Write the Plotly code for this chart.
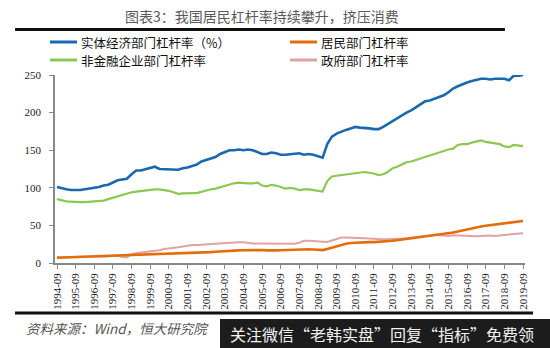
import plotly.graph_objects as go

# Quarterly observations, 1994-09 .. 2019-09 (Mar, Jun, Sep, Dec per year)
quarters = ["1994-09", "1994-12"] + [
    f"{y}-{m}" for y in range(1995, 2020) for m in ("03", "06", "09", "12")
][:-1]

names = ["实体经济部门杠杆率（%）", "居民部门杠杆率", "非金融企业部门杠杆率", "政府部门杠杆率"]

real_economy = [
    101, 99,
    98, 97, 97, 97,
    98, 99, 100, 101,
    103, 104, 107, 110,
    111, 112, 118, 123,
    123, 125, 126, 128,
    125, 125, 124, 124,
    124, 126, 127, 129,
    131, 135, 137, 139,
    141, 145, 148, 150,
    150, 151, 150, 151,
    150, 147, 145, 145,
    147, 146, 144, 144,
    145, 145, 146, 144,
    145, 144, 142, 140,
    158, 168, 172, 175,
    177, 179, 181, 180,
    180, 179, 178, 178,
    181, 185, 189, 192,
    196, 200, 203, 207,
    210, 215, 216, 218,
    221, 223, 227, 232,
    235, 238, 240, 242,
    244, 245, 245, 244,
    245, 245, 245, 243,
    249, 249, 250,
]

household = [
    7.0, 7.2,
    7.4, 7.6, 7.8, 8.0,
    8.2, 8.4, 8.6, 8.8,
    9.0, 9.3, 9.6, 10.0,
    10.2, 10.5, 10.8, 11.0,
    11.2, 11.4, 11.5, 11.6,
    11.7, 11.8, 11.9, 12.0,
    12.2, 12.5, 12.8, 13.0,
    13.3, 13.7, 14.0, 14.5,
    15.0, 15.5, 16.0, 16.3,
    16.5, 16.8, 17.0, 17.2,
    17.3, 17.3, 17.2, 16.8,
    16.5, 16.8, 17.0, 17.3,
    17.6, 18.0, 18.3, 18.3,
    18.2, 18.0, 17.5, 17.2,
    18.5, 20.5, 22.5, 24.0,
    25.5, 26.5, 27.0, 27.2,
    27.5, 27.7, 27.8, 28.0,
    28.3, 28.8, 29.5, 30.2,
    31.0, 32.0, 33.0, 33.8,
    34.5, 35.3, 36.0, 36.5,
    37.3, 38.3, 39.3, 40.5,
    42.0, 43.5, 45.0, 46.5,
    47.5, 48.5, 49.5, 50.3,
    51.0, 52.0, 53.0, 53.8,
    54.5, 55.2, 55.9,
]

corporate = [
    85, 83,
    82, 81.5, 81, 81,
    81, 81.5, 82, 82.5,
    83, 85, 87, 89,
    91, 92, 94, 95,
    96, 97, 97.5, 98,
    98, 97.5, 96, 94,
    92, 92.5, 93, 93,
    93, 95, 97, 98,
    99, 101, 103, 105,
    106, 107, 106, 106,
    106, 107, 103, 102,
    104, 103, 101, 99,
    100, 99, 97, 98,
    98, 97, 96, 95,
    109, 115, 116, 117,
    117, 118, 119, 120,
    121, 120, 119, 117,
    118, 121, 126, 128,
    131, 134, 135, 137,
    140, 142, 143, 145,
    148, 150, 151, 152,
    157, 158, 158, 160,
    162, 163, 161, 160,
    160, 158, 155, 154,
    157, 156, 155.5,
]

government = [
    7.5, 7.5,
    7.5, 7.7, 7.8, 8.0,
    8.0, 8.2, 8.3, 8.5,
    8.6, 8.8, 9.5, 9.8,
    8.0, 7.5, 12.0, 13.5,
    14.0, 14.5, 15.0, 16.0,
    17.0, 18.5, 19.0, 20.5,
    21.0, 22.0, 23.0, 24.0,
    24.0, 24.5, 25.0, 25.5,
    26.0, 26.5, 27.0, 27.0,
    27.0, 27.5, 27.5, 26.5,
    26.0, 26.0, 26.0, 26.5,
    26.5, 26.5, 26.5, 26.0,
    25.5, 25.5, 27.0, 29.5,
    29.5, 29.0, 28.0, 27.5,
    28.0, 30.0, 32.0, 34.0,
    34.0, 34.0, 33.5, 33.0,
    33.0, 32.5, 32.0, 31.5,
    31.5, 31.5, 31.5, 32.0,
    32.5, 33.0, 34.0, 35.0,
    35.5, 36.0, 36.5, 37.5,
    37.0, 36.0, 36.0, 37.0,
    36.5, 37.0, 36.0, 35.5,
    35.5, 36.0, 36.5, 36.5,
    36.0, 37.0, 37.5, 38.0,
    38.5, 39.0, 39.5,
]

year_ticks = [q for q in quarters if q.endswith("-09")]
y_ticks = [0, 50, 100, 150, 200, 250]

colors = ["#1a68ad", "#e46c0a", "#8cc850", "#e0a3a3"]
widths = [2.6, 2.6, 2.2, 2.0]
series = [real_economy, household, corporate, government]

W, H = 550, 348
L, R, T, B = 55, 25, 75, 85
PW, PH = W - L - R, H - T - B


def px(x):
    return (x - L) / PW


def py(y):
    return (H - B - y) / PH


fig = go.Figure()
# draw order: pink and green underneath, blue and orange on top
for idx in (3, 2, 1, 0):
    fig.add_trace(go.Scatter(
        x=quarters, y=series[idx], mode="lines", name=names[idx],
        line=dict(color=colors[idx], width=widths[idx]),
        showlegend=False,
    ))

serif = "Liberation Serif"
cjk = "Noto Sans CJK SC"

shapes = [
    # heavy rules above and below the chart
    dict(type="line", xref="paper", yref="paper", x0=px(15), x1=px(505),
         y0=py(29.5), y1=py(29.5), line=dict(color="#111", width=3)),
    dict(type="line", xref="paper", yref="paper", x0=px(15), x1=px(533),
         y0=py(313), y1=py(313), line=dict(color="#111", width=3)),
    # footer banner
    dict(type="rect", xref="paper", yref="paper", x0=px(220), x1=px(550),
         y0=py(348), y1=py(319), fillcolor="#1c1c1c", line=dict(width=0), layer="above"),
]

annotations = [
    dict(text="图表3：我国居民杠杆率持续攀升，挤压消费", xref="paper", yref="paper",
         x=px(262), y=py(16), xanchor="center", yanchor="middle", showarrow=False,
         font=dict(family=cjk, size=14, color="#5a5a5a")),
    dict(text="<i>资料来源：Wind，恒大研究院</i>", xref="paper", yref="paper",
         x=px(24), y=py(328), xanchor="left", yanchor="middle", showarrow=False,
         font=dict(family=cjk, size=13.5, color="#555")),
    dict(text="关注微信“老韩实盘”回复“指标”免费领", xref="paper", yref="paper",
         x=px(228), y=py(334), xanchor="left", yanchor="middle", showarrow=False,
         font=dict(family=cjk, size=16, color="#f2f2f2")),
]

# hand-placed legend in two columns
legend_pos = [(50, 42), (290, 42), (50, 60), (290, 60)]
for (lx, ly), name, color in zip(legend_pos, names, colors):
    shapes.append(dict(type="line", xref="paper", yref="paper",
                       x0=px(lx), x1=px(lx + 27), y0=py(ly), y1=py(ly),
                       line=dict(color=color, width=3)))
    annotations.append(dict(text=name, xref="paper", yref="paper",
                            x=px(lx + 29), y=py(ly), xanchor="left", yanchor="middle",
                            showarrow=False,
                            font=dict(family=cjk, size=12.5, color="#111")))

fig.update_layout(
    width=W, height=H,
    margin=dict(l=L, r=R, t=T, b=B),
    paper_bgcolor="white", plot_bgcolor="white",
    shapes=shapes, annotations=annotations,
    xaxis=dict(
        type="category", range=[-0.43, 100.43],
        tickmode="array", tickvals=year_ticks, ticktext=year_ticks,
        tickangle=-90, ticks="outside", ticklen=4, tickcolor="#888", tickwidth=1.2,
        showline=True, linecolor="#888", linewidth=1.5, showgrid=False, zeroline=False,
        tickfont=dict(family=serif, size=11, color="#222"),
    ),
    yaxis=dict(
        range=[0, 250], tickvals=y_ticks,
        ticks="outside", ticklen=4, tickcolor="#888", tickwidth=1.2,
        showline=True, linecolor="#888", linewidth=1.5, showgrid=False, zeroline=False,
        tickfont=dict(family=serif, size=11, color="#222"),
        ticklabelstandoff=6,
    ),
)

fig.write_html("out.html")
